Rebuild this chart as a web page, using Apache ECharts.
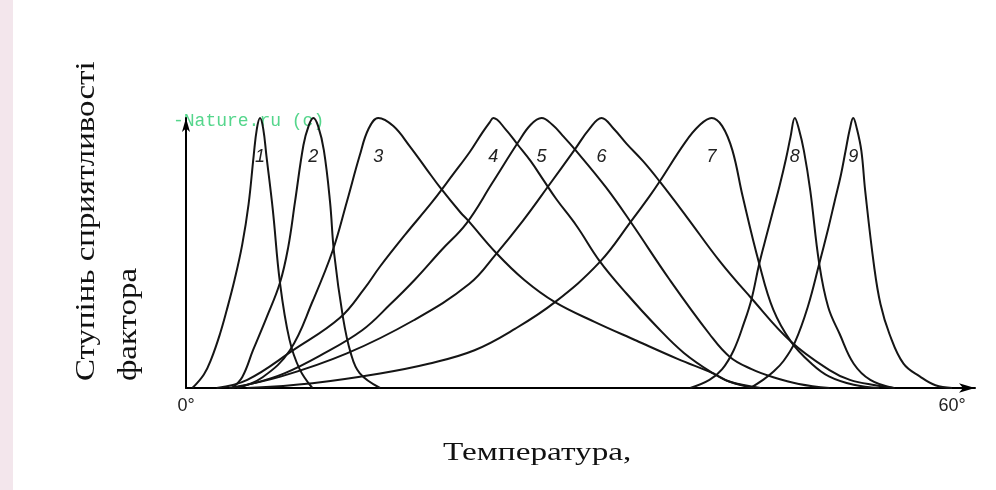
<!DOCTYPE html>
<html>
<head>
<meta charset="utf-8">
<script src="https://cdn.jsdelivr.net/npm/echarts/dist/echarts.min.js"></script>
<style>
  html, body { margin: 0; padding: 0; background: #fff; }
  #one { width: 996px; height: 490px; }
</style>
</head>
<body>
<div id="one"></div>
<script>
// температура (градуси) / ступінь сприятливості (0..1)
var curve1 = [[0.5,0],[1.4,0.05],[2.0,0.11],[2.66,0.2],[3.2,0.29],[3.8,0.40],[4.4,0.53],[4.9,0.68],[5.3,0.86],[5.55,0.96],[5.8,1.0],[6.05,0.96],[6.3,0.86],[6.8,0.66],[7.36,0.39],[8.1,0.18],[8.9,0.07],[9.9,0]];
var curve2 = [[3.6,0],[4.4,0.04],[5.25,0.14],[6.3,0.26],[7.36,0.39],[8.0,0.52],[8.54,0.69],[9.2,0.9],[9.6,0.97],[9.97,1.0],[10.35,0.97],[10.8,0.88],[11.28,0.69],[11.6,0.5],[12.3,0.26],[12.9,0.13],[13.6,0.055],[15.2,0]];
var curve3 = [[4.0,0],[6.0,0.04],[8.14,0.14],[9.95,0.325],[11.5,0.51],[12.6,0.69],[13.6,0.86],[14.3,0.96],[15.06,1.0],[16.24,0.97],[17.5,0.897],[18.85,0.81],[19.9,0.743],[21.5,0.65],[22.1,0.62],[24.3,0.5],[26.5,0.4],[28.9,0.318],[32,0.245],[35.3,0.175],[38.5,0.108],[41.3,0.054],[42.6,0.023],[44.5,0]];
var curve4 = [[2.4,0],[4.8,0.03],[8.4,0.14],[12.06,0.26],[14,0.37],[15.2,0.45],[17.2,0.57],[19.3,0.69],[20.9,0.79],[22.24,0.875],[23.2,0.945],[23.8,0.985],[24.07,1.0],[25.0,0.96],[26.0,0.9],[27.0,0.84],[28.0,0.77],[29.0,0.7],[30.6,0.6],[32.4,0.47],[34.5,0.35],[36.9,0.226],[39.0,0.13],[41.3,0.054],[42.6,0.023],[45,0]];
var curve5 = [[3.6,0],[5.5,0.02],[7.7,0.054],[10.5,0.12],[13.8,0.214],[16,0.31],[17.9,0.4],[20,0.51],[21.97,0.61],[24,0.76],[26,0.909],[27,0.975],[27.85,1.0],[28.7,0.975],[29.5,0.935],[30.46,0.884],[32.9,0.743],[34.9,0.61],[37.9,0.4],[41.0,0.2],[42.6,0.115],[44.3,0.07],[46,0.04],[48,0.015],[50.4,0]];
var curve6 = [[3.4,0],[7.4,0.042],[12.6,0.128],[17.8,0.25],[22.2,0.386],[24.3,0.497],[26.4,0.62],[28.4,0.749],[30.46,0.884],[31.6,0.96],[32.55,1.0],[33.5,0.96],[34.5,0.905],[35.8,0.84],[37.1,0.765],[39.2,0.635],[41.8,0.47],[44.2,0.337],[47.4,0.171],[50.4,0.066],[52,0.03],[54,0.01],[55.5,0]];
var curve7 = [[4.8,0],[9.9,0.018],[15.2,0.054],[19,0.09],[22.6,0.14],[25.8,0.22],[28.9,0.318],[32.4,0.466],[34.9,0.62],[36.3,0.71],[37.1,0.765],[39.1,0.91],[40.2,0.972],[41.17,1.0],[42.0,0.97],[42.8,0.88],[43.6,0.71],[44.9,0.46],[46,0.29],[47.4,0.171],[49,0.09],[50.4,0.042],[52.3,0.012],[54.3,0]];
var curve8 = [[39.5,0],[41,0.03],[42,0.07],[42.9,0.14],[43.7,0.24],[44.3,0.33],[44.9,0.46],[45.5,0.57],[46.0,0.66],[46.5,0.75],[47.0,0.85],[47.35,0.93],[47.69,1.0],[48.0,0.96],[48.4,0.878],[48.9,0.73],[49.6,0.46],[50.3,0.3],[51.2,0.2],[52.3,0.09],[53.6,0.03],[55.4,0]];
var curve9 = [[44.2,0],[45.2,0.03],[46,0.06],[46.8,0.1],[47.7,0.17],[48.7,0.3],[49.6,0.46],[50.3,0.59],[50.8,0.69],[51.3,0.79],[51.66,0.878],[52.0,0.96],[52.26,1.0],[52.55,0.96],[52.9,0.878],[53.2,0.73],[53.9,0.45],[54.4,0.31],[55.1,0.2],[56.2,0.09],[57.5,0.042],[58.7,0.01],[60,0]];

var curveNames = ['1','2','3','4','5','6','7','8','9'];
var curves = [curve1, curve2, curve3, curve4, curve5, curve6, curve7, curve8, curve9];
var tickTemps = [0, 60];

var myChart = echarts.init(document.getElementById('one'));

// кожна крива - окрема лінія, номер підписано під вершиною
var series = curves.map(function (data, i) {
    var peak = data[0];
    data.forEach(function (p) { if (p[1] > peak[1]) peak = p; });
    return {
        name: curveNames[i],
        type: 'line',
        data: data,
        smooth: 0.4,
        showSymbol: false,
        clip: false,
        lineStyle: { color: '#151515', width: 2 },
        markPoint: {
            symbol: 'circle',
            symbolSize: 0,
            data: [{ coord: peak }],
            label: {
                show: true,
                formatter: curveNames[i],
                position: 'bottom',
                distance: 30,
                fontSize: 18,
                fontStyle: 'italic',
                fontFamily: 'Liberation Sans',
                color: '#222'
            }
        }
    };
});

var option = {
    backgroundColor: '#ffffff',
    animation: false,
    grid: { left: 186, right: 21, top: 118, bottom: 102 },
    xAxis: {
        type: 'value',
        min: 0,
        max: 61.8,
        splitLine: { show: false },
        axisTick: { show: false },
        axisLine: {
            symbol: ['none', 'arrow'],
            symbolSize: [7, 16],
            lineStyle: { color: '#000', width: 2 }
        },
        axisLabel: {
            customValues: tickTemps,
            formatter: function (v) { return v + '°'; },
            margin: 9,
            fontSize: 18,
            fontFamily: 'Liberation Sans',
            color: '#222'
        }
    },
    yAxis: {
        type: 'value',
        min: 0,
        max: 1,
        splitLine: { show: false },
        axisTick: { show: false },
        axisLabel: { show: false },
        axisLine: {
            symbol: ['none', 'arrow'],
            symbolSize: [6, 14],
            lineStyle: { color: '#000', width: 2 }
        }
    },
    graphic: [
        {
            type: 'rect',
            shape: { x: 0, y: 0, width: 13, height: 490 },
            style: { fill: '#f3e6ec' },
            z: 0
        },
        {
            type: 'text',
            x: 173, y: 121,
            z: 0,
            style: {
                text: '-Nature.ru (c)',
                fontSize: 18,
                fontFamily: 'Liberation Mono',
                fill: '#55d68c',
                verticalAlign: 'middle'
            }
        },
        {
            type: 'text',
            x: 108, y: 381,
            rotation: Math.PI / 2,
            scaleX: 1.22,
            style: {
                text: 'Ступінь сприятливості\nфактора',
                fontSize: 27,
                lineHeight: 42,
                fontFamily: 'Liberation Serif',
                fill: '#111',
                align: 'left',
                verticalAlign: 'middle'
            }
        },
        {
            type: 'text',
            x: 443, y: 453,
            scaleX: 1.33,
            style: {
                text: 'Температура,',
                fontSize: 25,
                fontFamily: 'Liberation Serif',
                fill: '#111',
                align: 'left',
                verticalAlign: 'middle'
            }
        }
    ],
    series: series
};

myChart.setOption(option);
</script>
</body>
</html>
